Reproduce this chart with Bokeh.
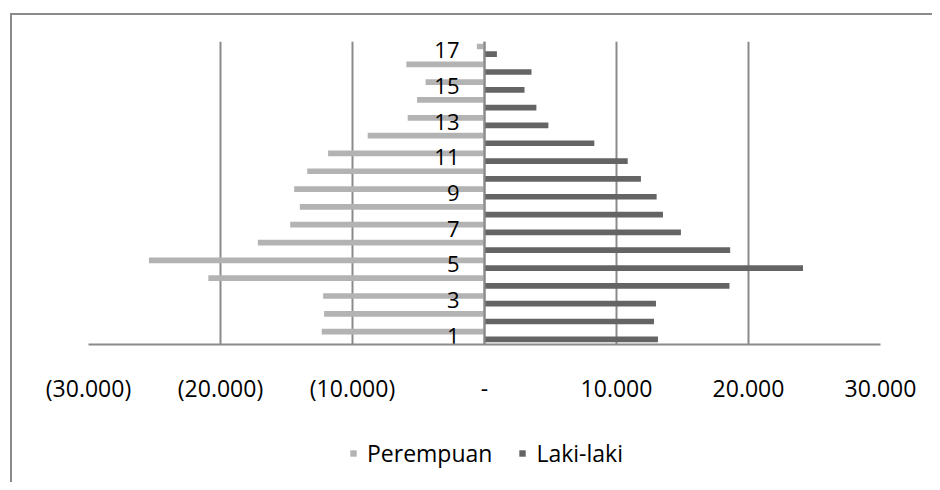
from bokeh.plotting import figure
from bokeh.layouts import column
from bokeh.models import ColumnDataSource, Legend, LegendItem, Span, Range1d, FixedTicker
from bokeh.core.properties import value
from bokeh.embed import file_html
from bokeh.resources import INLINE

# ---- data ----
age_groups = list(range(1, 18))
perempuan = [12330, 12150, 12220, 20920, 25420, 17170, 14720, 13990, 14420,
             13430, 11850, 8850, 5820, 5110, 4460, 5920, 580]
laki_laki = [13140, 12840, 12990, 18560, 24130, 18610, 14880, 13520, 13040,
             11850, 10850, 8320, 4840, 3930, 3030, 3560, 940]
x_ticks = [-30000, -20000, -10000, 0, 10000, 20000, 30000]
x_tick_labels = ["(30.000)", "(20.000)", "(10.000)", "-", "10.000", "20.000", "30.000"]
shown_groups = [1, 3, 5, 7, 9, 11, 13, 15, 17]
series_names = ["Perempuan", "Laki-laki"]

LIGHT = "#b3b3b3"
DARK = "#646464"
GRID = "#8a8a8a"
FONT = "Open Sans"

p = figure(width=920, height=391, output_backend="svg", toolbar_location=None,
           x_range=Range1d(-30000, 30000), y_range=Range1d(0.5, 17.5),
           min_border_left=76, min_border_right=52, min_border_top=26,
           min_border_bottom=60)

src_f = ColumnDataSource(dict(y=[g + 0.22 for g in age_groups],
                              left=[-v for v in perempuan],
                              right=[0] * len(perempuan)))
src_m = ColumnDataSource(dict(y=[g - 0.21 for g in age_groups],
                              left=[0] * len(laki_laki),
                              right=laki_laki))

p.hbar(y="y", left="left", right="right", height=0.32, source=src_f,
       fill_color=LIGHT, line_color=None)
p.hbar(y="y", left="left", right="right", height=0.32, source=src_m,
       fill_color=DARK, line_color=None)

p.add_layout(Span(location=0, dimension="height", line_color=GRID, line_width=2))

p.text(x=[0] * len(shown_groups), y=shown_groups, text=[str(g) for g in shown_groups],
       x_offset=-25, text_align="right", text_baseline="middle",
       text_font=value(FONT), text_font_size="22px", text_color="#000000")

p.yaxis.visible = False
p.ygrid.visible = False
p.xgrid.ticker = FixedTicker(ticks=x_ticks)
p.xgrid.grid_line_color = GRID
p.xgrid.grid_line_width = 2
p.outline_line_color = None

ax = p.xaxis[0]
ax.ticker = FixedTicker(ticks=x_ticks)
ax.major_label_overrides = {t: l for t, l in zip(x_ticks, x_tick_labels)}
ax.major_tick_line_color = None
ax.minor_tick_line_color = None
ax.axis_line_color = GRID
ax.axis_line_width = 2
ax.major_label_text_font = FONT
ax.major_label_text_font_size = "23px"
ax.major_label_text_color = "#000000"
ax.major_label_standoff = 21

# ---- legend strip (same series as square markers, outside its own visible range) ----
pl = figure(width=920, height=76, output_backend="svg", toolbar_location=None,
            x_range=Range1d(-30000, 30000), y_range=Range1d(100, 101),
            min_border_left=12, min_border_right=0, min_border_top=18,
            min_border_bottom=0)
pl.axis.visible = False
pl.grid.visible = False
pl.outline_line_color = None
lf = pl.scatter(x="left", y="y", source=src_f, marker="square", size=13,
                fill_color=LIGHT, line_color=None)
lm = pl.scatter(x="right", y="y", source=src_m, marker="square", size=13,
                fill_color=DARK, line_color=None)

legend = Legend(items=[LegendItem(label=series_names[0], renderers=[lf]),
                       LegendItem(label=series_names[1], renderers=[lm])],
                orientation="horizontal", location="center")
legend.label_text_font = FONT
legend.label_text_font_size = "23px"
legend.label_text_color = "#000000"
legend.glyph_width = 16
legend.glyph_height = 16
legend.label_standoff = 6
legend.spacing = 22
legend.padding = 0
legend.margin = 0
legend.border_line_color = None
legend.background_fill_alpha = 0
pl.add_layout(legend)

layout = column(p, pl, spacing=0)
layout.styles = {"border-left": f"2px solid {GRID}", "border-top": f"2px solid {GRID}",
                 "margin-left": "10px", "margin-top": "13px"}

open("out.html", "w").write(file_html(layout, INLINE))
